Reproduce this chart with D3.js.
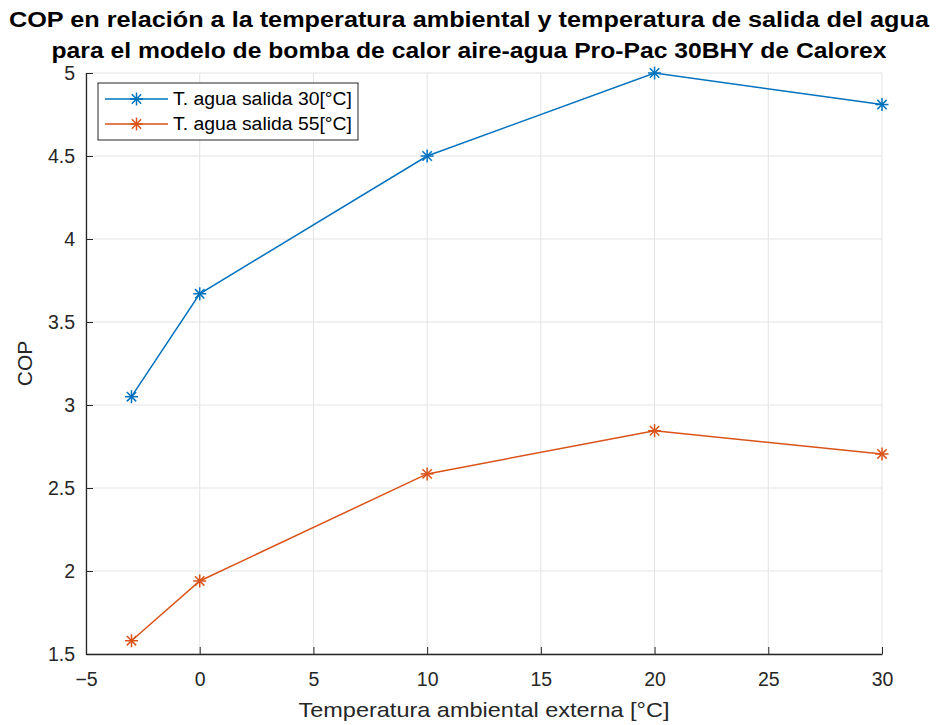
<!DOCTYPE html>
<html><head><meta charset="utf-8">
<script src="https://cdn.jsdelivr.net/npm/d3@7"></script>
<style>body{margin:0;background:#fff;} svg{display:block;font-family:"Liberation Sans",Arial,Helvetica,sans-serif;}</style>
</head><body><div id="chart"></div>
<script>
const temps = [-3, 0, 10, 20, 30];
const cop30 = [3.05, 3.67, 4.5, 5.0, 4.81];
const cop55 = [1.58, 1.94, 2.585, 2.845, 2.705];
const seriesNames = ["T. agua salida 30[°C]", "T. agua salida 55[°C]"];
const xTicks = [-5, 0, 5, 10, 15, 20, 25, 30];
const yTicks = [1.5, 2, 2.5, 3, 3.5, 4, 4.5, 5];
const titleLines = ["COP en relación a la temperatura ambiental y temperatura de salida del agua",
                    "para el modelo de bomba de calor aire-agua Pro-Pac 30BHY de Calorex"];
const xLabel = "Temperatura ambiental externa [°C]";
const yLabel = "COP";
const colors = ["#0072BD", "#D95319"];

const W = 950, H = 725;
const m = {left: 86, right: 882, top: 73, bottom: 654};
const svg = d3.select("#chart").append("svg").attr("width", W).attr("height", H);
const x = d3.scaleLinear().domain([-5, 30]).range([m.left, m.right]);
const y = d3.scaleLinear().domain([1.5, 5]).range([m.bottom, m.top]);

// grid
const grid = svg.append("g");
grid.selectAll(".gx").data(xTicks).join("line")
  .attr("x1", d => x(d)).attr("x2", d => x(d)).attr("y1", m.top).attr("y2", m.bottom)
  .attr("stroke", "#e3e3e3").attr("stroke-width", 1);
grid.selectAll(".gy").data(yTicks).join("line")
  .attr("y1", d => y(d)).attr("y2", d => y(d)).attr("x1", m.left).attr("x2", m.right)
  .attr("stroke", "#e3e3e3").attr("stroke-width", 1);

// axes
const ax = svg.append("g").attr("transform", `translate(0,${m.bottom})`)
  .call(d3.axisBottom(x).tickValues(xTicks).tickFormat(d3.format("d")).tickSizeInner(-7).tickSizeOuter(0).tickPadding(18));
const ay = svg.append("g").attr("transform", `translate(${m.left},0)`)
  .call(d3.axisLeft(y).tickValues(yTicks).tickFormat(d => String(d)).tickSizeInner(-7).tickSizeOuter(0).tickPadding(11));
[ax, ay].forEach(g => {
  g.select(".domain").attr("stroke", "#262626").attr("stroke-width", 1.3);
  g.selectAll(".tick line").attr("stroke", "#262626").attr("stroke-width", 1);
  g.selectAll(".tick text").attr("fill", "#262626").style("font-size", "19.5px")
   .style("font-family", "'Liberation Sans', Arial, sans-serif");
});
ax.selectAll(".tick text").attr("dy", "0.71em");
ay.selectAll(".tick text").attr("dy", "0.35em");

// series
const line = d3.line().x(d => x(d[0])).y(d => y(d[1]));
[cop30, cop55].forEach((vals, i) => {
  const pts = temps.map((t, j) => [t, vals[j]]);
  svg.append("path").datum(pts).attr("d", line).attr("fill", "none")
    .attr("stroke", colors[i]).attr("stroke-width", 1.5);
  const mk = svg.append("g");
  pts.forEach(p => drawStar(mk, x(p[0]), y(p[1]), colors[i]));
});

function drawStar(g, cx, cy, c) {
  const r = 6.5, d = r * 0.72;
  const segs = [[0, -r, 0, r], [-r, 0, r, 0], [-d, -d, d, d], [-d, d, d, -d]];
  segs.forEach(s => g.append("line").attr("x1", cx + s[0]).attr("y1", cy + s[1])
    .attr("x2", cx + s[2]).attr("y2", cy + s[3]).attr("stroke", c).attr("stroke-width", 1.5));
}

// legend
const lg = svg.append("g");
lg.append("rect").attr("x", 98).attr("y", 83).attr("width", 260).attr("height", 57)
  .attr("fill", "#fff").attr("stroke", "#262626").attr("stroke-width", 1);
seriesNames.forEach((n, i) => {
  const yy = 99 + i * 25;
  lg.append("line").attr("x1", 105).attr("x2", 168).attr("y1", yy).attr("y2", yy)
    .attr("stroke", colors[i]).attr("stroke-width", 1.5);
  drawStar(lg, 136.5, yy, colors[i]);
  lg.append("text").attr("x", 173).attr("y", yy).attr("dy", "0.35em")
    .attr("fill", "#000").style("font-size", "18px").text(n)
    .attr("textLength", 179).attr("lengthAdjust", "spacingAndGlyphs");
});

// titles
const tWidths = [920, 835];
const tBase = [26.5, 57.5];
titleLines.forEach((t, i) => {
  svg.append("text").attr("x", 469).attr("y", tBase[i])
    .attr("text-anchor", "middle").style("font-size", "22px").style("font-weight", "bold")
    .attr("fill", "#000").text(t)
    .attr("textLength", tWidths[i]).attr("lengthAdjust", "spacingAndGlyphs");
});

// axis labels
svg.append("text").attr("x", (m.left + m.right) / 2).attr("y", 710).attr("dy", "0.35em")
  .attr("text-anchor", "middle").style("font-size", "21px").attr("fill", "#262626")
  .text(xLabel).attr("textLength", 371).attr("lengthAdjust", "spacingAndGlyphs");
svg.append("text").attr("transform", `translate(25,${(m.top + m.bottom) / 2}) rotate(-90)`)
  .attr("dy", "0.35em").attr("text-anchor", "middle").style("font-size", "21px")
  .attr("fill", "#262626").text(yLabel);
</script></body></html>
